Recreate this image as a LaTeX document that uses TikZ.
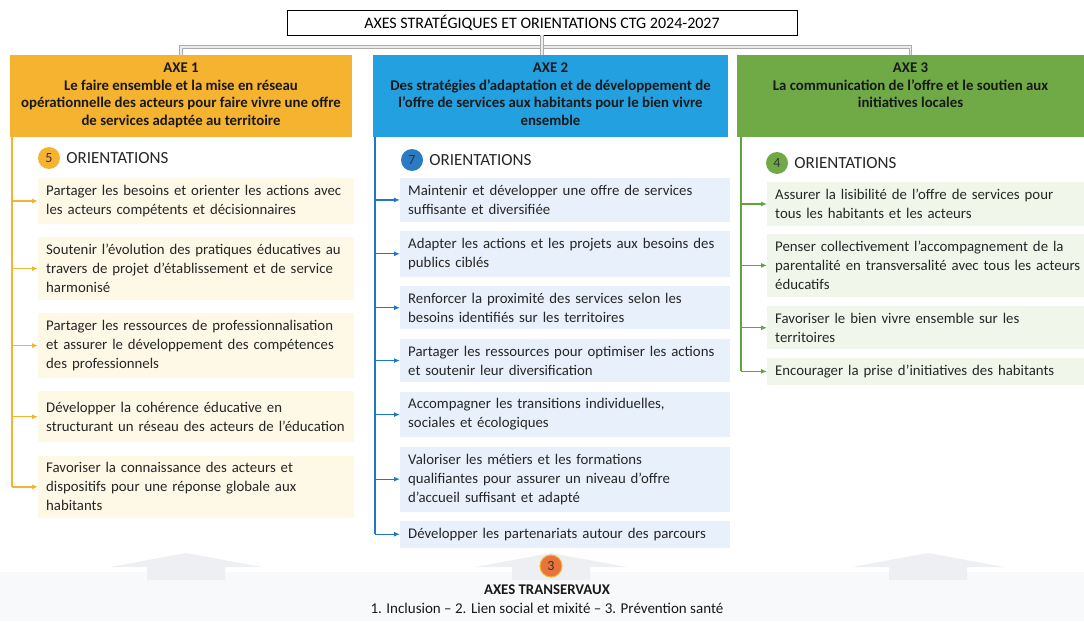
\documentclass[tikz,border=0pt]{standalone}
\usepackage{fontspec}
\setmainfont{Carlito}
\usepackage{tikz}
\usetikzlibrary{positioning,arrows.meta}
\definecolor{axeorange}{HTML}{F5B330}
\definecolor{axeblue}{HTML}{22A0E0}
\definecolor{axegreen}{HTML}{70AA46}
\definecolor{lineorange}{HTML}{F5B330}
\definecolor{lineblue}{HTML}{1E78C8}
\definecolor{linegreen}{HTML}{5FA53C}
\definecolor{fillorange}{HTML}{FEF8E7}
\definecolor{fillblue}{HTML}{E7F0FB}
\definecolor{fillgreen}{HTML}{F0F7EA}
\definecolor{dotblue}{HTML}{2A7BC4}
\definecolor{dotred}{HTML}{E8743B}
\definecolor{bandgray}{HTML}{F8F9FA}
\definecolor{arrowgray}{HTML}{EDEFF2}

\begin{document}
\begin{tikzpicture}[
    x=1pt, y=-1pt,
    node distance=13pt,
    header/.style={rectangle, minimum height=82pt, inner sep=0pt},
    headtext/.style={align=center, inner sep=0pt, text=black!90,
                     font=\bfseries\fontsize{14.8}{17.5}\selectfont},
    orient/.style={rectangle, inner xsep=8pt, inner ysep=7pt,
                   align=left, text width=300pt, text=black!85,
                   font=\fontsize{14.8}{19}\selectfont},
    numdot/.style={circle, minimum size=22pt, inner sep=0pt,
                   text=black!80, font=\fontsize{14}{14}\selectfont},
    ortitle/.style={inner sep=0pt, text=black!85, font=\fontsize{17}{17}\selectfont},
    link/.style={draw=gray!65, double=gray!15, double distance=1.2pt, line width=1pt},
    trunk/.style={line width=1.6pt},
    branch/.style={line width=1.3pt, -{Latex[length=6pt,width=5pt]}}
]
\useasboundingbox (0,0) rectangle (1084,621);

\node[draw, line width=0.8pt, minimum width=510pt, minimum height=25pt,
      font=\fontsize{16}{16}\selectfont] (title) at (542,22.5)
      {AXES STRATÉGIQUES ET ORIENTATIONS CTG 2024-2027};

\node[header, fill=axeorange, minimum width=342pt] (axe1) at (181,96) {};
\node[header, fill=axeblue, minimum width=355pt] (axe2) at (550.5,96) {};
\node[header, fill=axegreen, minimum width=347pt] (axe3) at (910.5,96) {};
\node[headtext, below=8pt of axe1.north] (axe1txt) {AXE 1\\Le faire ensemble et la mise en réseau\\opérationnelle des acteurs pour faire vivre une offre\\de services adaptée au territoire};
\node[headtext, below=8pt of axe2.north] (axe2txt) {AXE 2\\Des stratégies d’adaptation et de développement de\\l’offre de services aux habitants pour le bien vivre\\ensemble};
\node[headtext, below=8pt of axe3.north] (axe3txt) {AXE 3\\La communication de l’offre et le soutien aux\\initiatives locales};

\coordinate (bus) at (542,47);
\draw[link] (axe1.north) |- (bus) -| (axe3.north);
\draw[link] (title.south) -- (title.south |- axe2.north);

\node[numdot, fill=axeorange] (n1) at (49,158) {5};
\node[ortitle, right=6pt of n1] (or1) {ORIENTATIONS};
\node[numdot, fill=dotblue] (n2) at (412,160) {7};
\node[ortitle, right=6pt of n2] (or2) {ORIENTATIONS};
\node[numdot, fill=axegreen] (n3) at (777,163) {4};
\node[ortitle, right=6pt of n3] (or3) {ORIENTATIONS};

\node[orient, fill=fillorange, anchor=north west] (o11) at (38,178) {Partager les besoins et orienter les actions avec\\les acteurs compétents et décisionnaires};
\node[orient, fill=fillorange, below=of o11] (o12) {Soutenir l’évolution des pratiques éducatives au\\travers de projet d’établissement et de service\\harmonisé};
\node[orient, fill=fillorange, below=of o12] (o13) {Partager les ressources de professionnalisation\\et assurer le développement des compétences\\des professionnels};
\node[orient, fill=fillorange, below=of o13, minimum height=51pt] (o14) {Développer la cohérence éducative en\\structurant un réseau des acteurs de l’éducation};
\node[orient, fill=fillorange, below=of o14] (o15) {Favoriser la connaissance des acteurs et\\dispositifs pour une réponse globale aux\\habitants};

\node[orient, fill=fillblue, text width=314pt, anchor=north west] (o21) at (400,178) {Maintenir et développer une offre de services\\suffisante et diversifiée};
\node[orient, fill=fillblue, text width=314pt, below=9pt of o21] (o22) {Adapter les actions et les projets aux besoins des\\publics ciblés};
\node[orient, fill=fillblue, text width=314pt, below=9pt of o22] (o23) {Renforcer la proximité des services selon les\\besoins identifiés sur les territoires};
\node[orient, fill=fillblue, text width=314pt, below=9pt of o23] (o24) {Partager les ressources pour optimiser les actions\\et soutenir leur diversification};
\node[orient, fill=fillblue, text width=314pt, below=9pt of o24] (o25) {Accompagner les transitions individuelles,\\sociales et écologiques};
\node[orient, fill=fillblue, text width=314pt, below=9pt of o25] (o26) {Valoriser les métiers et les formations\\qualifiantes pour assurer un niveau d’offre\\d’accueil suffisant et adapté};
\node[orient, fill=fillblue, text width=314pt, below=9pt of o26] (o27) {Développer les partenariats autour des parcours};

\node[orient, fill=fillgreen, text width=340pt, anchor=north west] (o31) at (767,182) {Assurer la lisibilité de l’offre de services pour\\tous les habitants et les acteurs};
\node[orient, fill=fillgreen, text width=340pt, below=8pt of o31] (o32) {Penser collectivement l’accompagnement de la\\parentalité en transversalité avec tous les acteurs\\éducatifs};
\node[orient, fill=fillgreen, text width=340pt, below=9pt of o32] (o33) {Favoriser le bien vivre ensemble sur les\\territoires};
\node[orient, fill=fillgreen, text width=340pt, below=8pt of o33] (o34) {Encourager la prise d’initiatives des habitants};

\coordinate (trunk1) at (12,137);
\coordinate (trunk2) at (375,137);
\coordinate (trunk3) at (741,137);

\draw[trunk, lineorange] (trunk1) -- (trunk1 |- o15.west);
\draw[branch, lineorange] (trunk1 |- o11.west) -- (o11.west);
\draw[branch, lineorange] (trunk1 |- o12.west) -- (o12.west);
\draw[branch, lineorange] (trunk1 |- o13.west) -- (o13.west);
\draw[branch, lineorange] (trunk1 |- o14.west) -- (o14.west);
\draw[branch, lineorange] (trunk1 |- o15.west) -- (o15.west);

\draw[trunk, lineblue] (trunk2) -- (trunk2 |- o27.west);
\draw[branch, lineblue] (trunk2 |- o21.west) -- (o21.west);
\draw[branch, lineblue] (trunk2 |- o22.west) -- (o22.west);
\draw[branch, lineblue] (trunk2 |- o23.west) -- (o23.west);
\draw[branch, lineblue] (trunk2 |- o24.west) -- (o24.west);
\draw[branch, lineblue] (trunk2 |- o25.west) -- (o25.west);
\draw[branch, lineblue] (trunk2 |- o26.west) -- (o26.west);
\draw[branch, lineblue] (trunk2 |- o27.west) -- (o27.west);

\draw[trunk, linegreen] (trunk3) -- (trunk3 |- o34.west);
\draw[branch, linegreen] (trunk3 |- o31.west) -- (o31.west);
\draw[branch, linegreen] (trunk3 |- o32.west) -- (o32.west);
\draw[branch, linegreen] (trunk3 |- o33.west) -- (o33.west);
\draw[branch, linegreen] (trunk3 |- o34.west) -- (o34.west);

\fill[bandgray] (0,572) rectangle (1084,621);
\fill[arrowgray] (186,553) -- (262,567) -- (225,567) -- (225,580) -- (147,580) -- (147,567) -- (110,567) -- cycle;
\fill[arrowgray] (551,553) -- (627,567) -- (590,567) -- (590,580) -- (512,580) -- (512,567) -- (475,567) -- cycle;
\fill[arrowgray] (928,553) -- (1004,567) -- (967,567) -- (967,580) -- (889,580) -- (889,567) -- (852,567) -- cycle;

\node[numdot, fill=dotred, draw=axeorange, line width=1pt] (n4) at (551,566) {3};
\node[font=\bfseries\fontsize{14.8}{14.8}\selectfont, text=black!90] (transv) at (547,590) {AXES TRANSERVAUX};
\node[font=\fontsize{15}{15}\selectfont, text=black!90, below=1pt of transv] (transvlist) {1. Inclusion – 2. Lien social et mixité – 3. Prévention santé};
\end{tikzpicture}
\end{document}
